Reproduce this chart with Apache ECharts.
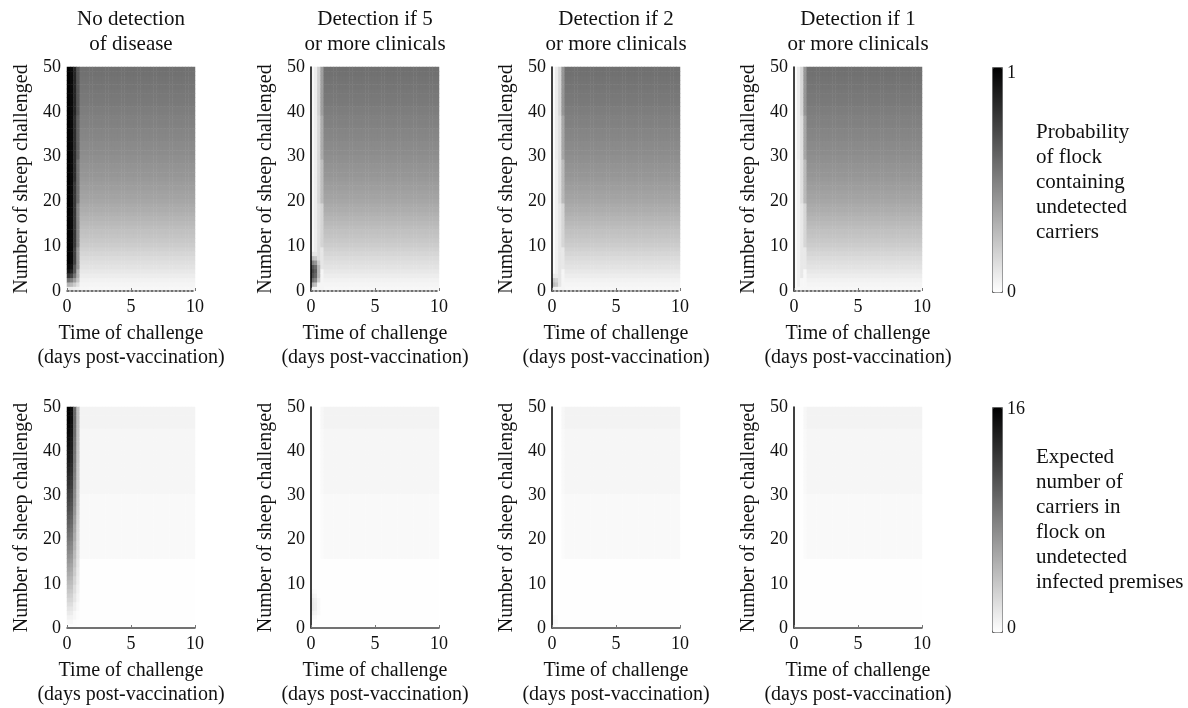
<!DOCTYPE html>
<html>
<head>
<meta charset="utf-8">
<script src="https://cdn.jsdelivr.net/npm/echarts@6/dist/echarts.min.js"></script>
<style>
  html, body { margin: 0; padding: 0; background: #fff; }
  #main { width: 1188px; height: 708px; }
</style>
</head>
<body>
<div id="main"></div>
<script>
// time of challenge (days post-vaccination), one column per quarter day
const days = [0, 0.25, 0.5, 0.75, 1, 1.25, 1.5, 1.75, 2, 2.25, 2.5, 2.75, 3, 3.25, 3.5, 3.75,
  4, 4.25, 4.5, 4.75, 5, 5.25, 5.5, 5.75, 6, 6.25, 6.5, 6.75, 7, 7.25, 7.5, 7.75,
  8, 8.25, 8.5, 8.75, 9, 9.25, 9.5, 9.75];
// number of sheep challenged
const sheep = [0, 1, 2, 3, 4, 5, 6, 7, 8, 9, 10, 11, 12, 13, 14, 15, 16, 17, 18, 19, 20,
  21, 22, 23, 24, 25, 26, 27, 28, 29, 30, 31, 32, 33, 34, 35, 36, 37, 38, 39, 40,
  41, 42, 43, 44, 45, 46, 47, 48, 49, 50];

const panelTitles = ["No detection\nof disease", "Detection if 5\nor more clinicals",
  "Detection if 2\nor more clinicals", "Detection if 1\nor more clinicals"];

// probability of undetected carriers once challenge is 1 day or more after vaccination
const probLate = [0.03, 0.04, 0.05, 0.07, 0.09, 0.11, 0.125, 0.14, 0.16, 0.18,
  0.2, 0.215, 0.23, 0.245, 0.26, 0.275, 0.29, 0.305, 0.32, 0.335,
  0.35, 0.36, 0.37, 0.38, 0.39, 0.4, 0.41, 0.415, 0.425, 0.435,
  0.44, 0.45, 0.455, 0.46, 0.47, 0.475, 0.48, 0.49, 0.495, 0.5,
  0.505, 0.51, 0.52, 0.525, 0.53, 0.535, 0.54, 0.545, 0.55, 0.555, 0.56];

// expected carriers once challenge is 1 day or more after vaccination
const carriersLate = [0.08, 0.08, 0.08, 0.08, 0.08, 0.08, 0.08, 0.08, 0.08, 0.08,
  0.08, 0.08, 0.08, 0.08, 0.08, 0.08, 0.4, 0.4, 0.4, 0.4,
  0.4, 0.4, 0.4, 0.4, 0.4, 0.4, 0.4, 0.4, 0.4, 0.4,
  0.4, 0.55, 0.55, 0.55, 0.55, 0.55, 0.55, 0.55, 0.55, 0.55,
  0.55, 0.55, 0.55, 0.55, 0.55, 0.55, 0.75, 0.75, 0.75, 0.75, 0.75];

// first day (0, 0.25, 0.5, 0.75): either [from sheep, value] steps or one value per sheep
const probNone = [
  [[0, 0.08], [1, 0.3], [2, 0.55], [3, 0.8], [4, 0.92], [5, 0.97], [6, 1]],
  [[0, 0.07], [1, 0.27], [2, 0.5], [3, 0.74], [4, 0.87], [5, 0.93], [6, 0.96]],
  [[0, 0.06], [1, 0.2], [2, 0.38], [3, 0.55], [4, 0.66], [6, 0.74], [10, 0.78], [25, 0.82], [40, 0.85]],
  [[0, 0.05], [1, 0.12], [2, 0.22], [3, 0.3], [5, 0.4], [10, 0.48], [20, 0.56], [30, 0.62], [40, 0.66]]
];
const probDetect5 = [
  [[0, 0.05], [1, 0.3], [2, 0.55], [3, 0.68], [4, 0.72], [5, 0.66], [6, 0.48], [7, 0.25], [8, 0.1], [9, 0.03]],
  [[0, 0.05], [1, 0.25], [2, 0.48], [3, 0.6], [4, 0.64], [5, 0.58], [6, 0.42], [7, 0.22], [8, 0.1], [9, 0.07]],
  [[0, 0.04], [2, 0.2], [3, 0.28], [6, 0.2], [7, 0.13], [20, 0.16], [40, 0.19]],
  [[0, 0.04], [5, 0.1], [10, 0.17], [20, 0.26], [30, 0.33], [40, 0.38]]
];
const probDetect2 = [
  [[0, 0.05], [1, 0.26], [2, 0.2], [3, 0.07], [4, 0.02]],
  [[0, 0.05], [1, 0.22], [2, 0.17], [3, 0.08], [4, 0.06], [30, 0.08]],
  [[0, 0.04], [1, 0.1], [20, 0.13], [40, 0.16]],
  [[0, 0.04], [5, 0.09], [10, 0.16], [20, 0.27], [30, 0.35], [40, 0.41]]
];
const probDetect1 = [
  [[0, 0.03], [1, 0.02]],
  [[0, 0.03], [1, 0.06], [30, 0.08]],
  [[0, 0.03], [3, 0.09], [20, 0.13], [40, 0.16]],
  [[0, 0.03], [5, 0.09], [10, 0.16], [20, 0.27], [30, 0.35], [40, 0.41]]
];
const carriersNone = [
  [0.1, 0.45, 0.8, 1.25, 1.7, 2.15, 2.6, 3.05, 3.5, 3.95,
   4.4, 4.85, 5.3, 5.7, 6.1, 6.55, 7, 7.4, 7.8, 8.2,
   8.6, 9, 9.4, 9.75, 10.1, 10.45, 10.8, 11.15, 11.5, 11.8,
   12.1, 12.4, 12.7, 13, 13.3, 13.55, 13.8, 14.05, 14.3, 14.5,
   14.7, 14.9, 15.1, 15.25, 15.4, 15.55, 15.7, 15.8, 15.9, 15.95, 16],
  [0.1, 0.42, 0.75, 1.18, 1.6, 2.05, 2.5, 2.9, 3.3, 3.75,
   4.2, 4.6, 5, 5.4, 5.8, 6.2, 6.6, 7, 7.4, 7.8,
   8.2, 8.55, 8.9, 9.25, 9.6, 9.95, 10.3, 10.6, 10.9, 11.2,
   11.5, 11.8, 12.1, 12.35, 12.6, 12.85, 13.1, 13.35, 13.6, 13.8,
   14, 14.15, 14.3, 14.45, 14.6, 14.75, 14.9, 15, 15.1, 15.15, 15.2],
  [[0, 0.1], [2, 0.5], [4, 1], [6, 1.55], [8, 2.1], [10, 2.65], [12, 3.2], [14, 3.7], [16, 4.2], [18, 4.7],
   [20, 5.2], [22, 5.65], [24, 6.1], [26, 6.5], [28, 6.9], [30, 7.25], [32, 7.6], [34, 7.95], [36, 8.3],
   [38, 8.55], [40, 8.8], [42, 9], [44, 9.2], [46, 9.35], [48, 9.5]],
  [[0, 0.08], [2, 0.2], [4, 0.4], [6, 0.65], [8, 0.9], [10, 1.1], [12, 1.3], [14, 1.55], [16, 1.8], [18, 2],
   [20, 2.2], [22, 2.35], [24, 2.5], [26, 2.7], [28, 2.9], [30, 3.05], [32, 3.2], [34, 3.3], [36, 3.4],
   [38, 3.55], [40, 3.7], [42, 3.8], [44, 3.9], [46, 3.95], [48, 4]]
];
const carriersDetect5 = [
  [[0, 0.05], [2, 0.4], [3, 0.9], [4, 1.3], [6, 1.2], [7, 0.7], [8, 0.3], [9, 0.05]],
  [[0, 0.05], [2, 0.3], [3, 0.7], [4, 1], [6, 0.9], [7, 0.5], [8, 0.2], [9, 0.05]],
  [[0, 0.05], [3, 0.3], [7, 0.05]],
  [[0, 0.05], [16, 0.25], [31, 0.35], [46, 0.5]]
];
const carriersDetect2 = [
  [[0, 0.3], [1, 0.5], [2, 0.3], [3, 0.05]],
  [[0, 0.2], [1, 0.4], [2, 0.2], [3, 0.05]],
  [[0, 0.05]],
  [[0, 0.05], [16, 0.25], [31, 0.35], [46, 0.5]]
];
const carriersDetect1 = [
  [[0, 0.05]],
  [[0, 0.05]],
  [[0, 0.05]],
  [[0, 0.05], [16, 0.25], [31, 0.35], [46, 0.5]]
];

const FONT = '"Liberation Serif", "Times New Roman", serif';
const lefts = [67, 311, 552, 794];
const rows = [{ top: 67, height: 224 }, { top: 407, height: 222 }];

function valueAt(column, j) {
  if (typeof column[0] === "number") return column[j];
  let v = column[0][1];
  column.forEach(b => { if (sheep[j] >= b[0]) v = b[1]; });
  return v;
}

function cells(early, late) {
  const out = [];
  days.forEach((d, i) => {
    sheep.forEach((s, j) => {
      out.push([i, j, i < early.length ? valueAt(early[i], j) : late[j]]);
    });
  });
  return out;
}

const panels = [
  { row: 0, col: 0, early: probNone, late: probLate },
  { row: 0, col: 1, early: probDetect5, late: probLate },
  { row: 0, col: 2, early: probDetect2, late: probLate },
  { row: 0, col: 3, early: probDetect1, late: probLate },
  { row: 1, col: 0, early: carriersNone, late: carriersLate },
  { row: 1, col: 1, early: carriersDetect5, late: carriersLate },
  { row: 1, col: 2, early: carriersDetect2, late: carriersLate },
  { row: 1, col: 3, early: carriersDetect1, late: carriersLate }
];

const grid = [], xAxis = [], yAxis = [], series = [];
panels.forEach((p, k) => {
  grid.push({ left: lefts[p.col], top: rows[p.row].top, width: 128, height: rows[p.row].height });
  xAxis.push({ type: "category", gridIndex: k, data: days, show: false, position: "top" });
  xAxis.push({
    type: "value", gridIndex: k, min: 0, max: 10, interval: 5, position: "bottom", z: 5,
    name: "Time of challenge\n(days post-vaccination)", nameLocation: "middle", nameGap: 31,
    nameTextStyle: { fontFamily: FONT, fontSize: 20, lineHeight: 24, color: "#111" },
    axisLine: { onZero: false, lineStyle: { color: "#444", width: 1.5, type: p.row === 0 ? [2, 2] : "solid" } },
    axisTick: { show: true, inside: true, length: 3, lineStyle: { color: "#777" } },
    axisLabel: { fontFamily: FONT, fontSize: 18, color: "#111", margin: 7 },
    splitLine: { show: false }
  });
  yAxis.push({ type: "category", gridIndex: k, data: sheep, show: false, position: "right" });
  yAxis.push({
    type: "value", gridIndex: k, min: 0, max: 50, interval: 10, position: "left", z: 5,
    name: "Number of sheep challenged", nameLocation: "middle", nameGap: 35, nameRotate: 90,
    nameTextStyle: { fontFamily: FONT, fontSize: 20, color: "#111" },
    axisLine: { show: p.col > 0, onZero: false, lineStyle: { color: "#000", width: 1.5 } },
    axisTick: { show: false },
    axisLabel: { fontFamily: FONT, fontSize: 18, color: "#111", margin: 6 },
    splitLine: { show: false }
  });
  series.push({
    type: "heatmap",
    xAxisIndex: 2 * k,
    yAxisIndex: 2 * k,
    data: cells(p.early, p.late),
    itemStyle: { borderWidth: 0 },
    emphasis: { disabled: true },
    silent: true,
    progressive: 0
  });
});

const titleStyle = { fontFamily: FONT, fontSize: 21, fontWeight: "normal", lineHeight: 25, color: "#111" };
const title = panelTitles.map((t, i) => ({
  text: t, left: lefts[i] + 64, top: 7, padding: 0,
  textAlign: "center", textVerticalAlign: "top", textStyle: titleStyle
}));

const barStyle = {
  type: "continuous", orient: "vertical", calculable: false, hoverLink: false,
  left: 992, itemWidth: 10, itemHeight: 225, padding: 0,
  borderColor: "#666", borderWidth: 1,
  inRange: { color: ["#ffffff", "#000000"] }
};

const labelFont = "18px " + FONT;
const descFont = "21px " + FONT;

const option = {
  animation: false,
  backgroundColor: "#fff",
  title: title,
  grid: grid,
  xAxis: xAxis,
  yAxis: yAxis,
  visualMap: [
    Object.assign({}, barStyle, { min: 0, max: 1, top: 67, seriesIndex: [0, 1, 2, 3] }),
    Object.assign({}, barStyle, { min: 0, max: 16, top: 407, seriesIndex: [4, 5, 6, 7] })
  ],
  graphic: [
    { type: "text", left: 1007, top: 64, style: { text: "1", font: labelFont, fill: "#111" } },
    { type: "text", left: 1007, top: 283, style: { text: "0", font: labelFont, fill: "#111" } },
    { type: "text", left: 1007, top: 400, style: { text: "16", font: labelFont, fill: "#111" } },
    { type: "text", left: 1007, top: 619, style: { text: "0", font: labelFont, fill: "#111" } },
    {
      type: "text", left: 1036, top: 120,
      style: { text: "Probability\nof flock\ncontaining\nundetected\ncarriers", font: descFont, lineHeight: 25, fill: "#111" }
    },
    {
      type: "text", left: 1036, top: 445,
      style: { text: "Expected\nnumber of\ncarriers in\nflock on\nundetected\ninfected premises", font: descFont, lineHeight: 25, fill: "#111" }
    }
  ],
  series: series
};

const chart = echarts.init(document.getElementById("main"));
chart.setOption(option);
window.addEventListener("resize", function () {
  chart.resize();
});
</script>
</body>
</html>
